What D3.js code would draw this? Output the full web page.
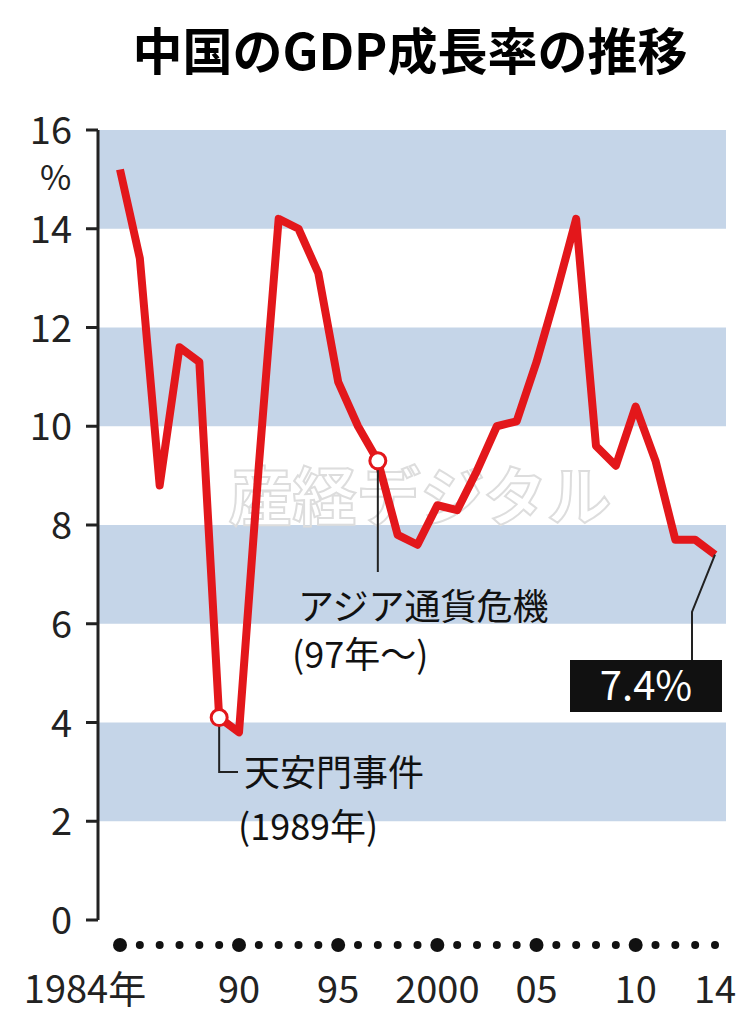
<!DOCTYPE html>
<html><head><meta charset="utf-8">
<script src="https://cdn.jsdelivr.net/npm/d3@7"></script>
<style>body{margin:0;background:#fff}text{font-family:"Noto Sans CJK JP","Liberation Sans",sans-serif}</style>
</head><body>
<svg id="c" width="756" height="1024"></svg>
<script>
var years = d3.range(1984, 2015);
var growth = [15.2,13.4,8.8,11.6,11.3,4.1,3.8,9.2,14.2,14.0,13.1,10.9,10.0,9.3,7.8,7.6,8.4,8.3,9.1,10.0,10.1,11.3,12.7,14.2,9.6,9.2,10.4,9.3,7.7,7.7,7.4];
var yTicks = [0,2,4,6,8,10,12,14,16];
var bands = [[2,4],[6,8],[10,12],[14,16]];
var xLabels = [[1984,"1984年"],[1990,"90"],[1995,"95"],[2000,"2000"],[2005,"05"],[2010,"10"],[2014,"14"]];
var bigDots = [1984,1990,1995,2000,2005,2010];

var svg = d3.select("#c");
var x = d3.scaleLinear().domain([1984, 2014]).range([120, 715]);
var y = d3.scaleLinear().domain([0, 16]).range([920, 130]);

svg.append("text").attr("x", 410).attr("y", 70).attr("text-anchor", "middle")
  .attr("font-size", 50).attr("font-weight", "bold").text("中国のGDP成長率の推移");

svg.selectAll(".band").data(bands).enter().append("rect")
  .attr("x", 98).attr("width", 628)
  .attr("y", function (d) { return y(d[1]); })
  .attr("height", function (d) { return y(d[0]) - y(d[1]); })
  .attr("fill", "#c5d5e8");

svg.append("line").attr("x1", 98).attr("x2", 98).attr("y1", y(16)).attr("y2", y(0))
  .attr("stroke", "#222").attr("stroke-width", 3);
svg.selectAll(".yt").data(yTicks).enter().append("line")
  .attr("x1", 86).attr("x2", 98).attr("y1", y).attr("y2", y)
  .attr("stroke", "#222").attr("stroke-width", 3);
svg.selectAll(".yl").data(yTicks).enter().append("text")
  .attr("x", 72).attr("y", function (d) { return y(d) + 14; })
  .attr("text-anchor", "end").attr("font-size", 38).attr("fill", "#222")
  .attr("font-family", "Liberation Sans").text(function (d) { return d; });
svg.append("text").attr("x", 40).attr("y", 190).attr("font-size", 34).attr("fill", "#222").text("%");

svg.selectAll(".dot").data(years).enter().append("circle")
  .attr("cx", x).attr("cy", 945)
  .attr("r", function (d) { return bigDots.indexOf(d) >= 0 ? 7 : 4; })
  .attr("fill", "#111");
svg.selectAll(".xl").data(xLabels).enter().append("text")
  .attr("x", function (d) { return x(d[0]) + (d[0] === 1984 ? -35 : 0); })
  .attr("y", 1003).attr("text-anchor", "middle").attr("font-size", 38).attr("fill", "#222")
  .text(function (d) { return d[1]; });

// watermark
svg.append("text").attr("x", 420).attr("y", 520).attr("text-anchor", "middle")
  .attr("font-size", 64).attr("font-weight", "bold").attr("fill", "none")
  .attr("stroke", "#ddd").attr("stroke-width", 2).text("産経デジタル");

var line = d3.line().x(function (d, i) { return x(years[i]); }).y(function (d) { return y(d); });
svg.append("path").datum(growth).attr("d", line).attr("fill", "none")
  .attr("stroke", "#e3171b").attr("stroke-width", 8).attr("stroke-linejoin", "round");

// annotations
var lead = "#222";
svg.append("path").attr("d", "M" + x(1997) + "," + y(9.3) + "V572").attr("stroke", lead).attr("stroke-width", 2).attr("fill", "none");
svg.append("path").attr("d", "M" + x(1989) + "," + y(4.1) + "V772H238").attr("stroke", lead).attr("stroke-width", 2).attr("fill", "none");
svg.append("path").attr("d", "M" + x(2014) + "," + y(7.4) + "L692,612V660").attr("stroke", lead).attr("stroke-width", 2).attr("fill", "none");
[[1997, 9.3], [1989, 4.1]].forEach(function (p) {
  svg.append("circle").attr("cx", x(p[0])).attr("cy", y(p[1])).attr("r", 8)
    .attr("fill", "#fff").attr("stroke", "#e3171b").attr("stroke-width", 3);
});
svg.append("text").attr("x", 298).attr("y", 620).attr("font-size", 36).attr("fill", "#111").text("アジア通貨危機");
svg.append("text").attr("x", 292).attr("y", 668).attr("font-size", 36).attr("fill", "#111").attr("font-family", "Liberation Serif").text("(97年〜)");
svg.append("text").attr("x", 244).attr("y", 786).attr("font-size", 36).attr("fill", "#111").text("天安門事件");
svg.append("text").attr("x", 238).attr("y", 840).attr("font-size", 36).attr("fill", "#111").attr("font-family", "Liberation Serif").text("(1989年)");
svg.append("rect").attr("x", 570).attr("y", 660).attr("width", 152).attr("height", 52).attr("fill", "#111");
svg.append("text").attr("x", 646).attr("y", 700).attr("text-anchor", "middle").attr("font-size", 40)
  .attr("fill", "#fff").attr("font-family", "Liberation Sans").text("7.4%");
</script>
</body></html>
